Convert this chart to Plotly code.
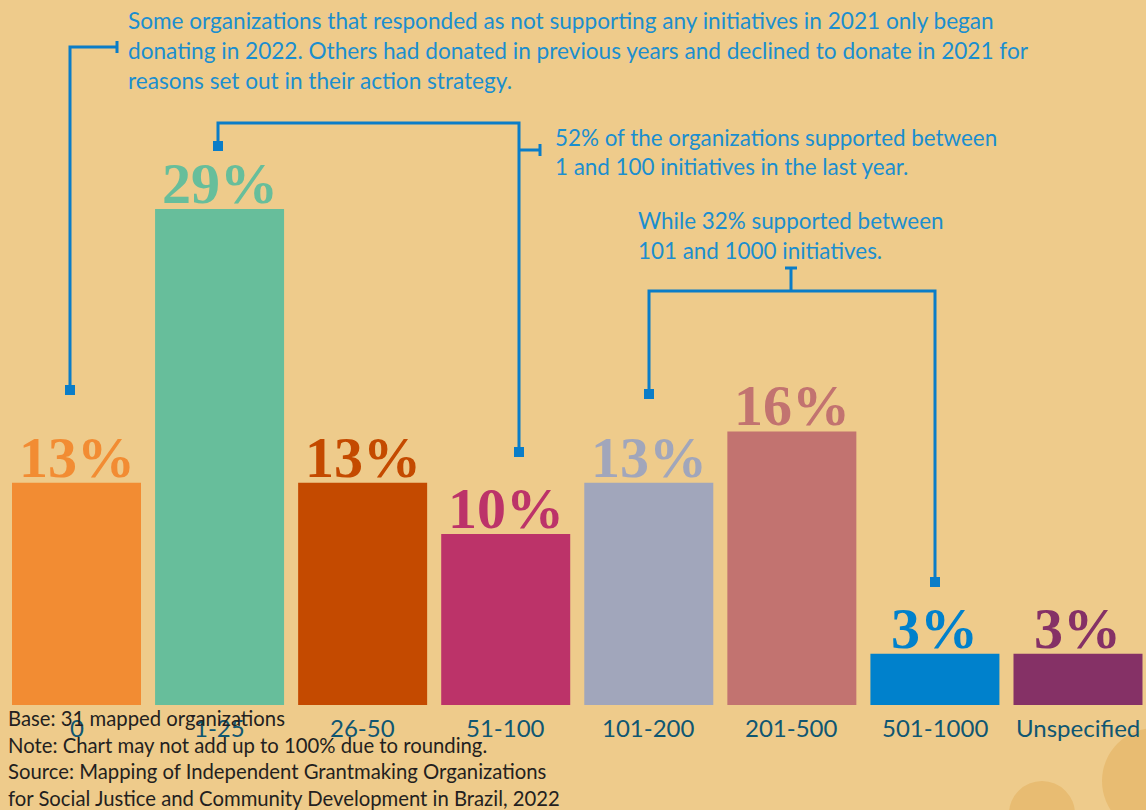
import plotly.graph_objects as go

categories = ["0", "1-25", "26-50", "51-100", "101-200", "201-500", "501-1000", "Unspecified"]
values = [13, 29, 13, 10, 13, 16, 3, 3]
bar_colors = ["#F28C33", "#67BE9B", "#C44A00", "#BC3369", "#A1A6BB", "#C27370", "#0081CC", "#853166"]

note1 = ["Some organizations that responded as not supporting any initiatives in 2021 only began",
         "donating in 2022. Others had donated in previous years and declined to donate in 2021 for",
         "reasons set out in their action strategy."]
note2 = ["52% of the organizations supported between",
         "1 and 100 initiatives in the last year."]
note3 = ["While 32% supported between",
         "101 and 1000 initiatives."]
footer = ["Base: 31 mapped organizations",
          "Note: Chart may not add up to 100% due to rounding.",
          "Source: Mapping of Independent Grantmaking Organizations",
          "for Social Justice and Community Development in Brazil, 2022"]

W, H = 1146, 810
BG = "#EECB8B"
BLUE = "#0A7DC8"
ANN = "#1B8ECF"
CAT = "#0F5672"
SANS = "Lato, 'Open Sans', sans-serif"
SERIF = "'Liberation Serif', 'DejaVu Serif', serif"

def px(x):
    return x / W

def py(y):
    return 1 - y / H

# axis mapping: bar centers at 76.5 + 143.07*i px ; baseline at y=705 px
step = 143.07
x0 = 76.5
scale = 17.1
base_y = 705

fig = go.Figure()
fig.add_trace(go.Bar(
    x=list(range(len(categories))), y=values,
    marker=dict(color=bar_colors, line=dict(width=0)),
    width=129 / step, hoverinfo="skip",
))

shapes = []
# decorative circles
deco = "#E8BC72"
shapes.append(dict(type="circle", xref="paper", yref="paper", x0=px(1102), x1=px(1208), y0=py(728), y1=py(834),
                   fillcolor=deco, line=dict(width=0), layer="below"))
shapes.append(dict(type="rect", xref="paper", yref="paper", x0=px(1128), x1=px(1142), y0=py(780), y1=py(810),
                   fillcolor=deco, line=dict(width=0), layer="below"))
shapes.append(dict(type="circle", xref="paper", yref="paper", x0=px(1009), x1=px(1075), y0=py(781), y1=py(847),
                   fillcolor=deco, line=dict(width=0), layer="below"))

def line(pts):
    path = "M " + " L ".join(f"{px(x)},{py(y)}" for x, y in pts)
    shapes.append(dict(type="path", xref="paper", yref="paper", path=path,
                       line=dict(color=BLUE, width=3)))

def square(x, y, s=10):
    shapes.append(dict(type="rect", xref="paper", yref="paper", x0=px(x - s / 2), x1=px(x + s / 2),
                       y0=py(y + s / 2), y1=py(y - s / 2), fillcolor=BLUE, line=dict(width=0)))

# bracket 1
line([(70, 390), (70, 47), (117, 47)])
line([(117, 41), (117, 53)])
square(70, 390)
# bracket 2
line([(218, 146), (218, 123), (519, 123), (519, 452)])
line([(519, 150), (540, 150)])
line([(540, 144), (540, 156)])
square(218, 146)
square(519, 452)
# bracket 3
line([(785, 268), (797, 268)])
line([(791, 268), (791, 291)])
line([(649, 394), (649, 291), (935, 291), (935, 582)])
square(649, 394)
square(935, 582)

annotations = []
def text(t, x, y, size, color, anchor="left"):
    annotations.append(dict(text=t, x=px(x), y=py(y), xref="paper", yref="paper",
                            xanchor=anchor, yanchor="middle", showarrow=False,
                            font=dict(family=SANS, size=size, color=color)))

for i, t in enumerate(note1):
    text(t, 126, 20 + 30.5 * i, 22.6, ANN)
for i, t in enumerate(note2):
    text(t, 553, 137 + 29 * i, 22.4, ANN)
for i, t in enumerate(note3):
    text(t, 636, 220 + 30 * i, 22.4, ANN)

# value labels above bars
for i, (v, c) in enumerate(zip(values, bar_colors)):
    annotations.append(dict(text=f"{v}%", x=i, y=v, xref="x", yref="y", yshift=-9,
                            xanchor="center", yanchor="bottom", showarrow=False,
                            font=dict(family=SERIF, size=58, color=c, weight="bold")))

for i, c in enumerate(categories):
    annotations.append(dict(text=c, x=i, y=0, xref="x", yref="y", yshift=-22,
                            xanchor="center", yanchor="middle", showarrow=False,
                            font=dict(family=SANS, size=24, color=CAT)))

for i, t in enumerate(footer):
    text(t, 6, 718 + 26.7 * i, 20.3, "#231F20")

ymin = -(H - base_y) / scale
ymax = base_y / scale
xmin = -x0 / step
xmax = (W - x0) / step

fig.update_layout(
    width=W, height=H,
    margin=dict(l=0, r=0, t=0, b=0),
    paper_bgcolor=BG, plot_bgcolor=BG,
    showlegend=False,
    xaxis=dict(range=[xmin, xmax], visible=False, fixedrange=True),
    yaxis=dict(range=[ymin, ymax], visible=False, fixedrange=True),
    shapes=shapes, annotations=annotations,
)

fig.write_html("out.html", config={"displayModeBar": False},
               post_script="document.body.style.margin='0';document.body.style.overflow='hidden';document.body.style.background='" + BG + "';")
